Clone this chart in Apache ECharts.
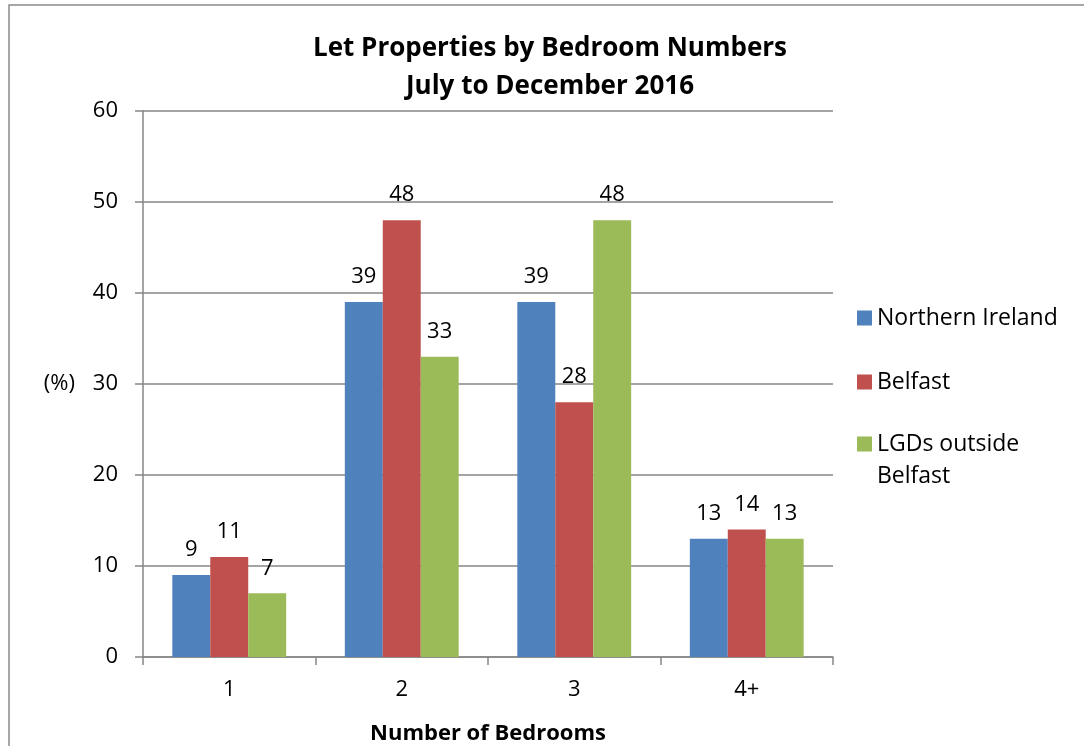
<!DOCTYPE html>
<html>
<head>
<meta charset="utf-8">
<script src="https://cdn.jsdelivr.net/npm/echarts@6/dist/echarts.min.js"></script>
<style>html,body{margin:0;padding:0;background:#fff}#c{width:1084px;height:746px}</style>
</head>
<body>
<div id="c"></div>
<script>
var categories = ['1', '2', '3', '4+'];
var northernIreland = [9, 39, 39, 13];
var belfast = [11, 48, 28, 14];
var lgdsOutside = [7, 33, 48, 13];
var yTicks = [0, 10, 20, 30, 40, 50, 60];
var seriesNames = ['Northern Ireland', 'Belfast', 'LGDs outside Belfast'];

var FONT = 'Open Sans';
var chart = echarts.init(document.getElementById('c'));
var labelStyle = { show: true, position: 'top', distance: 14, color: '#000', fontSize: 22, fontFamily: FONT };
function mk(name, data, color) {
  return { name: name, type: 'bar', data: data, barGap: '0%', barCategoryGap: '34%',
    itemStyle: { color: color }, label: labelStyle, emphasis: { disabled: true } };
}
var legendText = { color: '#000', fontSize: 23, fontFamily: FONT, lineHeight: 32 };
function lg(name, top, fmt) {
  var o = { data: [name], left: 852, top: top, orient: 'vertical', itemWidth: 15, itemHeight: 15, icon: 'rect',
    textStyle: legendText, selectedMode: false };
  if (fmt) o.formatter = fmt;
  return o;
}
chart.setOption({
  animation: false,
  textStyle: { fontFamily: FONT },
  graphic: [{ type: 'rect', shape: { x: 9, y: 5, width: 1200, height: 1000 }, style: { fill: 'none', stroke: '#8a8a8a', lineWidth: 1.5 }, silent: true }],
  title: { text: 'Let Properties by Bedroom Numbers\nJuly to December 2016', left: 545, textAlign: 'center', top: 25,
    textStyle: { fontFamily: FONT, fontWeight: 'bold', fontSize: 26, lineHeight: 38, color: '#000' } },
  legend: [
    lg(seriesNames[0], 297),
    lg(seriesNames[1], 361),
    lg(seriesNames[2], 391, function (n) { return '\n' + n.replace('LGDs outside ', 'LGDs outside\n'); })
  ],
  grid: { left: 143, right: 251, top: 111, bottom: 89, outerBoundsMode: 'none', containLabel: false },
  xAxis: { type: 'category', data: categories,
    name: 'Number of Bedrooms', nameLocation: 'middle', nameGap: 66,
    nameTextStyle: { fontFamily: FONT, fontWeight: 'bold', fontSize: 22, color: '#000' },
    axisLine: { lineStyle: { color: '#868686', width: 1.5 } },
    axisTick: { show: true, length: 8, alignWithLabel: false, lineStyle: { color: '#868686', width: 1.5 } },
    axisLabel: { color: '#000', fontSize: 22, fontFamily: FONT, margin: 22 } },
  yAxis: { type: 'value', min: yTicks[0], max: yTicks[yTicks.length - 1], interval: 10,
    name: '(%)', nameLocation: 'middle', nameRotate: 0, nameGap: 68,
    nameTextStyle: { fontFamily: FONT, fontSize: 22, color: '#000' },
    axisLine: { show: true, lineStyle: { color: '#868686', width: 1.5 } },
    axisTick: { show: true, length: 8, lineStyle: { color: '#868686', width: 1.5 } },
    axisLabel: { color: '#000', fontSize: 22, fontFamily: FONT, margin: 25 },
    splitLine: { lineStyle: { color: '#868686', width: 1.5 } } },
  series: [
    mk(seriesNames[0], northernIreland, '#4F81BD'),
    mk(seriesNames[1], belfast, '#C0504D'),
    mk(seriesNames[2], lgdsOutside, '#9BBB59')
  ]
});
</script>
</body>
</html>
